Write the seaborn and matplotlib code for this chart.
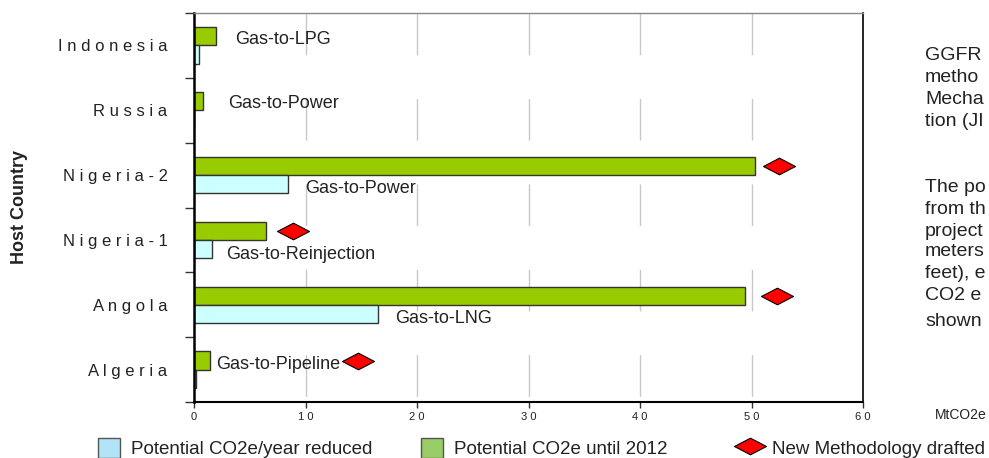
import matplotlib
matplotlib.use("Agg")
import matplotlib.pyplot as plt
import seaborn as sns
import pandas as pd
from matplotlib.path import Path
from matplotlib.patches import Patch
from matplotlib.lines import Line2D
from matplotlib.ticker import FixedLocator, FuncFormatter

# data (MtCO2e)
countries = ["Indonesia", "Russia", "Nigeria-2", "Nigeria-1", "Angola", "Algeria"]
until_2012 = [2.0, 0.8, 50.3, 6.45, 49.4, 1.45]
per_year = [0.45, 0.0, 8.4, 1.6, 16.5, 0.2]
project_types = ["Gas-to-LPG", "Gas-to-Power", "Gas-to-Power",
                 "Gas-to-Reinjection", "Gas-to-LNG", "Gas-to-Pipeline"]
method_countries = ["Nigeria-2", "Nigeria-1", "Angola", "Algeria"]
method_x = [52.5, 8.9, 52.3, 14.7]

side_text = [["GGFR", "metho", "Mecha", "tion (JI"],
             ["The po", "from th", "project", "meters", "feet), e", "CO2 e", "shown"]]

sns.set_theme(style="white")
plt.rcParams['font.family'] = ['Liberation Sans', 'DejaVu Sans']
text_color = "#222222"

s_total = "Potential CO2e until 2012"
s_year = "Potential CO2e/year reduced"
df = pd.DataFrame({
    "country": countries * 2,
    "value": until_2012 + per_year,
    "series": [s_total] * len(countries) + [s_year] * len(countries),
})

fig = plt.figure(figsize=(9.89, 4.58), dpi=100)
ax = fig.add_axes([194 / 989, 1 - 402 / 458, 669 / 989, 389 / 458])

sns.barplot(data=df, x="value", y="country", hue="series",
            hue_order=[s_total, s_year],
            palette={s_total: "#99cc00", s_year: "#ccffff"},
            width=0.56, saturation=1, edgecolor="#333333", linewidth=1,
            errorbar=None, legend=False, ax=ax, zorder=2)

ax.set_xlim(0, 60)
ax.set_ylim(len(countries) - 0.5, -0.5)
xt = list(range(0, 61, 10))
ax.set_xticks(xt)
ax.xaxis.set_major_formatter(FuncFormatter(lambda v, p: " ".join(str(int(v)))))

# dashed vertical grid, starting at the top of the plot
ax.vlines(xt[1:-1], -0.5, len(countries) - 0.5, colors="#c8c8c8", lw=1,
          linestyles=[(0, (30, 31.5))], zorder=0.5)

ax.set_yticks(range(len(countries)))
ax.set_yticklabels([" ".join(c) for c in countries])
ax.yaxis.set_minor_locator(FixedLocator([i - 0.5 for i in range(len(countries) + 1)]))
ax.tick_params(axis="y", which="major", length=0, pad=19, labelsize=12, labelcolor=text_color)
ax.tick_params(axis="y", which="minor", left=True, length=6.5, width=1, color="#333333")
ax.tick_params(axis="x", which="major", bottom=True, length=4, width=1, color="#333333",
               pad=3, labelsize=8, labelcolor=text_color)

ax.set_xlabel("")
ax.set_ylabel("Host Country", fontsize=13, fontweight="bold", color=text_color)
ax.yaxis.set_label_coords(-0.248, 0.5)

for side, lw, col in [("left", 1.8, "black"), ("bottom", 1.5, "black"),
                      ("right", 1.2, "black"), ("top", 1.0, "#888888")]:
    ax.spines[side].set_linewidth(lw)
    ax.spines[side].set_color(col)

# new methodology markers
diamond = Path([(-1, 0), (0, 0.52), (1, 0), (0, -0.52), (-1, 0)], closed=True)
ax.scatter(method_x, [countries.index(c) - 0.14 for c in method_countries],
           marker=diamond, s=530, c="#ff0000", edgecolors="black", linewidths=0.8,
           zorder=4, clip_on=False)

# project type labels
label_x = [3.7, 3.1, 10.0, 2.9, 18.0, 2.0]
label_dy = [-0.09, -0.1, 0.21, 0.22, 0.21, -0.085]
for i, (t, lx, dy) in enumerate(zip(project_types, label_x, label_dy)):
    ax.text(lx, i + dy, t, fontsize=13, color=text_color, ha="left", va="center", zorder=5)

# side notes (cut off at the figure edge)
side_y = [[55, 77, 99, 121], [187, 209, 231, 252, 274, 295, 322]]
for lines, ys in zip(side_text, side_y):
    for line, y in zip(lines, ys):
        fig.text(925 / 989, 1 - y / 458, line, fontsize=14, color=text_color,
                 ha="left", va="center")

fig.text(935 / 989, 1 - 415 / 458, "MtCO2e", fontsize=10, color=text_color,
         ha="left", va="center")

# legend entries
handles = [
    (Patch(facecolor="#b3e3f7", edgecolor="#555555"), s_year, 98),
    (Patch(facecolor="#99cc66", edgecolor="#555555"), s_total, 421),
    (Line2D([], [], marker=diamond, ls="none", markersize=23,
            markerfacecolor="#ff0000", markeredgecolor="black", markeredgewidth=0.8),
     "New Methodology drafted", 739),
]
for h, lab, x0 in handles:
    fig.legend([h], [lab], loc="center left", bbox_to_anchor=(x0 / 989, 1 - 448 / 458),
               frameon=False, fontsize=13.5, handlelength=1.15, handleheight=1.3,
               handletextpad=0.6, borderpad=0, borderaxespad=0, labelcolor=text_color)

fig.savefig("out.png", dpi=100)
